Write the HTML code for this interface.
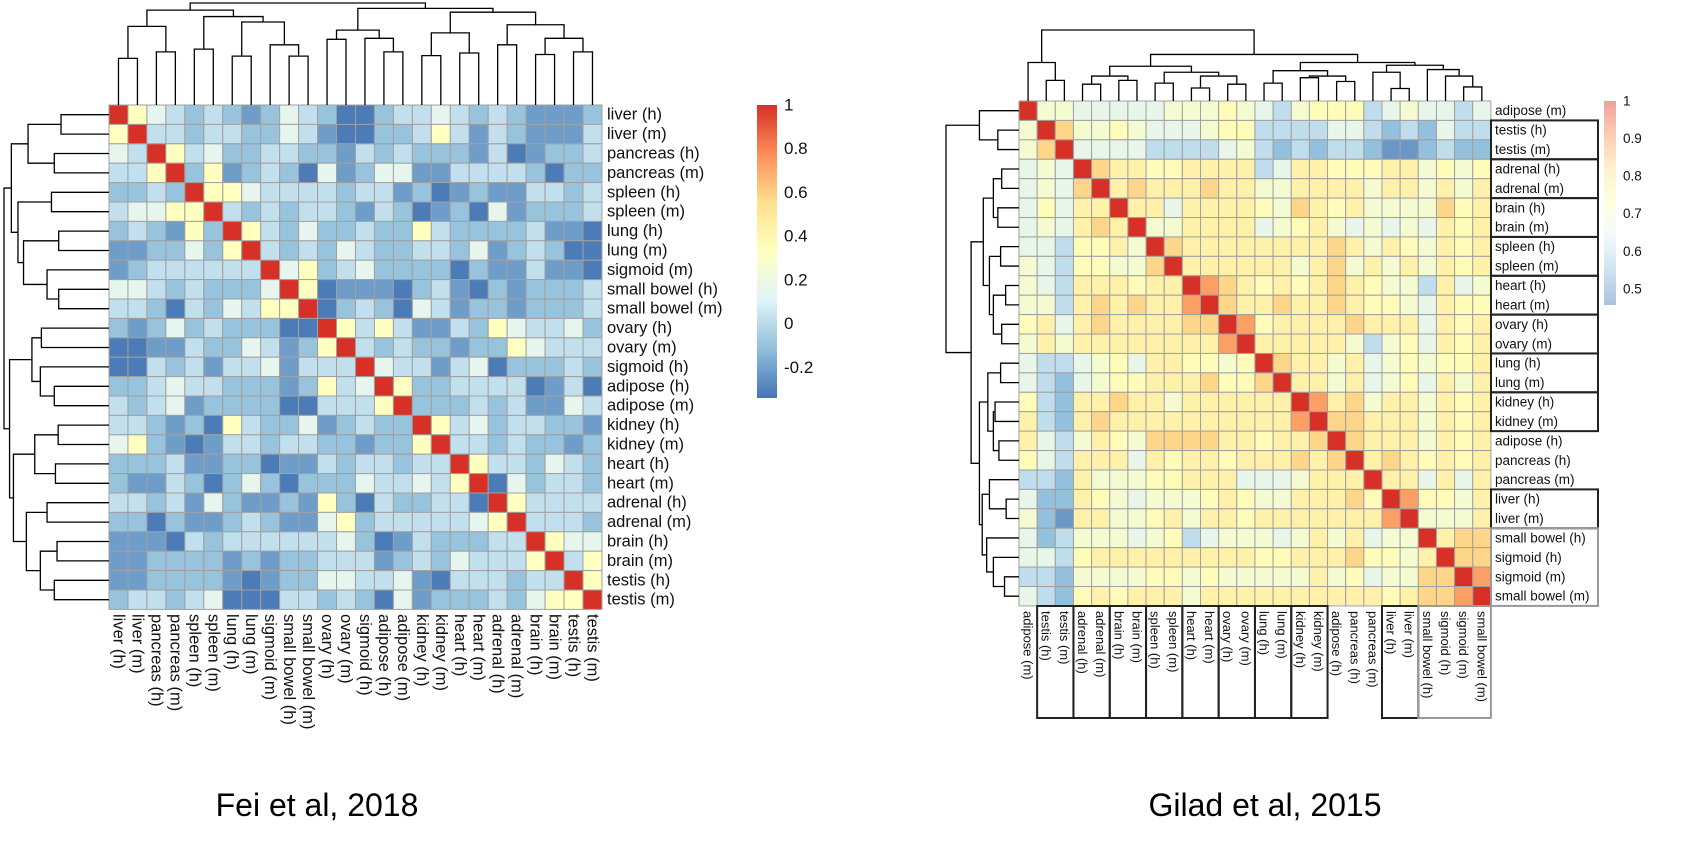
<!DOCTYPE html>
<html><head><meta charset="utf-8"><style>
html,body{margin:0;padding:0;background:#fff;}
svg{display:block;font-family:"Liberation Sans",Arial,sans-serif;}
</style></head><body>
<svg id="chart" width="1686" height="860" viewBox="0 0 1686 860" xmlns="http://www.w3.org/2000/svg">
<rect width="1686" height="860" fill="#fff"/>
<g id="left"></g>
<g id="right"></g>
<text x="317" y="816" font-size="32" text-anchor="middle" fill="#000">Fei et al, 2018</text>
<text x="1265" y="816" font-size="32" text-anchor="middle" fill="#000">Gilad et al, 2015</text>
</svg>
<script>
// ---------- DATA ----------
const leftLabels = ["liver (h)","liver (m)","pancreas (h)","pancreas (m)","spleen (h)","spleen (m)","lung (h)","lung (m)","sigmoid (m)","small bowel (h)","small bowel (m)","ovary (h)","ovary (m)","sigmoid (h)","adipose (h)","adipose (m)","kidney (h)","kidney (m)","heart (h)","heart (m)","adrenal (h)","adrenal (m)","brain (h)","brain (m)","testis (h)","testis (m)"];
const leftLevels = {B:-0.32,b:-0.22,m:-0.1,l:0.02,w:0.15,y:0.33,R:1};
const leftRows = [
"RywlmlmbmwlmBBmllwlmlmbbbm",
"yRllmllmmwlbBBmmlylblmbbbl",
"wlRylwmmllmmblmlmmmblBbmml",
"llyRmybmlmBwbmwwbbllllmBmm",
"mmlmRyywllllmllbmBbmbbllml",
"lwwyyRlmlmllmblmBbmBwbmmml",
"mlmbymRylmwmmlmmylmmmmlbbB",
"bbmmwmyRlmlmwlmmllmwbmlmBB",
"bmllllllRwymlwmmmmBmbblbbB",
"wwlmlmmmwRyBbbbBmlbBmbmmml",
"llmBlmwlyyRBmlmBwlbmmbmmml",
"mbmwmlmmmBBRylylbblmywllwm",
"BBbblmmwlbmyRlmlmmbmmywlll",
"BBlmlbllwblllRwllblwBmmmlm",
"mmlwllmmmbmylwRymmllllBblB",
"lmlwbmmmmBBlllyRmmmlmlbbwl",
"llmbmBylmmwbmlmmRylwmllmmb",
"wymbBbllmllmmbmmyRllmlmmbm",
"mmmlbbmmBbblmllmllRyllmwlm",
"mbblmBmwmBmmmwllwlyRBwmllm",
"llmlbwmbbmbymBlmmllBRyllll",
"mmBmbbmlmbbwymlllllwyRlllm",
"bbbBlmllllllwmBblmmmllRyww",
"bbmmmmbmbmmlllbmlmwlllyRly",
"bbmmmmbBbmmwwllwbBlllmllRy",
"mllmlwBBBllmlmBwbmmmlmwyyR"
];
const rightLabels = ["adipose (m)","testis (h)","testis (m)","adrenal (h)","adrenal (m)","brain (h)","brain (m)","spleen (h)","spleen (m)","heart (h)","heart (m)","ovary (h)","ovary (m)","lung (h)","lung (m)","kidney (h)","kidney (m)","adipose (h)","pancreas (h)","pancreas (m)","liver (h)","liver (m)","small bowel (h)","sigmoid (h)","sigmoid (m)","small bowel (m)"];
const rightLevels = {B:0.5,b:0.55,m:0.6,l:0.66,w:0.7,p:0.74,y:0.77,o:0.83,O:0.89,R:1};
const rightRows = [
"Rwwlllllwwwpwlmwpppmlwllml",
"wRowwpwlllwppmmmmllmbmblmm",
"woRllllmmmmlwmbmbmmbBBbmbb",
"lwlRoyyppyyyymlyypppyywpwp",
"lwloRyoyyyoyywwyyyywyywywy",
"lplyyRyylyyyypwoypywwwwopy",
"lwlyoyRwwyyyylwpywlwlwlypy",
"llmppywRoyyyyyyyyoywypwypy",
"wlmppwwoRyyyyyywyowywywypy",
"wlmyyypyyROoypypyoypwwmylw",
"wwmyoyoyyORoyyoyyoyppwlypp",
"pylyoyyyyooROpyyyyoyyylypy",
"wywyyyyyyyyORyyyyywmwplypy",
"lmmlwplyyppwpRoyywylwpwppy",
"lmblwppyyyoppoRyywylwplywy",
"pmbyyoyywyyyyyyROyowyywypy",
"ymbyoyyyyyyyyyyORooyyywypy",
"ylmwypwooooyypyyoRoyyywypy",
"plmyyylypyypyyyoyoRyoypypy",
"mmbywwwppyyylllwyyyRyylyly",
"lbbypwlwwwpypwwyyyopROppwy",
"wbByywwpywyypyyyyyyyORwwwy",
"lbmwwwlwpmlwwwlwywylwwRyoo",
"llmpyyyyyyyyyppyyyoppwyRoo",
"mmbwwwwppwpwwwwwywplwwooRO",
"lmbpypyyywyyyyyyyyyypyooOR"
];
// dendrogram trees: [leftChild, rightChild, relativeHeight]; leaves are row/col indices
const leftTree = [[[[0,1,.457],[2,3,.521],.771],[[4,5,.548],[[6,7,.479],[8,[9,10,.479],.59],.814],.867],.93],[[[11,12,.644],[13,[14,15,.521],.654],.734],[[[16,17,.484],[18,19,.51],.707],[[20,21,.59],[[22,23,.495],[24,25,.521],.654],.787],.91],.947],1];
const rightTree = [[0,[1,2,.29],.542],[[[[3,4,.237],[5,6,.29],.351],[[7,8,.252],[[9,10,.183],[11,12,.237],.351],.405],.489],[[[13,14,.252],[[15,16,.328],[17,18,.275],.351],.427],[[19,[20,21,.176],.405],[22,[23,[24,25,.198],.351],.443],.504],.542],.656],1];
const leftTicks = [1,0.8,0.6,0.4,0.2,0,-0.2];
const rightTicks = [1,0.9,0.8,0.7,0.6,0.5];
const rightRowBoxes = [[1,2],[3,4],[5,6],[7,8],[9,10],[11,12],[13,14],[15,16],[20,21]];
const rightGrayBox = [22,25];

// ---------- HELPERS ----------
const NS="http://www.w3.org/2000/svg";
const palette=["#4575B4","#91BFDB","#E0F3F8","#FFFFBF","#FEE090","#FC8D59","#D73027"];
function hex(c){return [1,3,5].map(i=>parseInt(c.substr(i,2),16));}
function colorFor(v,lo,hi){
  let t=(v-lo)/(hi-lo); t=Math.max(0,Math.min(1,t));
  const p=t*(palette.length-1); const i=Math.min(palette.length-2,Math.floor(p)); const f=p-i;
  const a=hex(palette[i]), b=hex(palette[i+1]);
  return "rgb("+a.map((x,k)=>Math.round(x+(b[k]-x)*f)).join(",")+")";
}
function mk(tag,attrs,parent){const e=document.createElementNS(NS,tag);for(const k in attrs)e.setAttribute(k,attrs[k]);parent.appendChild(e);return e;}
function parseRows(rows,levels){return rows.map(r=>r.split("").filter(c=>c in levels).slice(0,26).map(c=>levels[c]));}

function drawDend(g,tree,pos,base,depth,vertical,name){
  function rec(n){
    if(typeof n==="number") return [pos(n),0];
    const a=rec(n[0]), b=rec(n[1]), h=n[2];
    let d;
    if(vertical){
      const y=base-h*depth, ya=base-a[1]*depth, yb=base-b[1]*depth;
      d=`M${a[0]},${ya}V${y}H${b[0]}V${yb}`;
    } else {
      const x=base-h*depth, xa=base-a[1]*depth, xb=base-b[1]*depth;
      d=`M${xa},${a[0]}H${x}V${b[0]}H${xb}`;
    }
    const p=mk("path",{d:d,fill:"none",stroke:"#000","stroke-width":1.3},g);
    
    
    return [(a[0]+b[0])/2,h];
  }
  rec(tree);
}

function drawPanel(g,cfg){
  const M=parseRows(cfg.rows,cfg.levels), n=cfg.labels.length;
  const xs=i=>cfg.x0+i*cfg.cw, ys=i=>cfg.y0+i*cfg.ch;
  for(let r=0;r<n;r++)for(let c=0;c<n;c++){
    const v=(M[r]&&M[r][c]!==undefined)?M[r][c]:cfg.levels.l;
    const rc=mk("rect",{x:xs(c),y:ys(r),width:cfg.cw,height:cfg.ch,fill:colorFor(v,cfg.lo,cfg.hi),stroke:"#a0a0a0","stroke-width":1},g);
    
    
  }
  for(let i=0;i<n;i++){
    const t=mk("text",{x:cfg.rowLabelX,y:ys(i)+cfg.ch/2,"font-size":cfg.fs,"dominant-baseline":"central",fill:"#111"},g);
    t.textContent=cfg.labels[i];
    
    
    const cx=xs(i)+cfg.cw/2, cy=cfg.colLabelY;
    const t2=mk("text",{x:cx,y:cy,"font-size":cfg.fs2,"dominant-baseline":"central",fill:"#111",transform:`rotate(90 ${cx} ${cy})`},g);
    t2.textContent=cfg.labels[i];
    
    
  }
  drawDend(g,cfg.tree,i=>xs(i)+cfg.cw/2,cfg.y0,cfg.dendTop,true,'column-dendrogram-branch');
  drawDend(g,cfg.tree,i=>ys(i)+cfg.ch/2,cfg.x0,cfg.dendLeft,false,'row-dendrogram-branch');
  const id="grad"+cfg.id;
  const defs=mk("defs",{},g);
  const lg=mk("linearGradient",{id:id,x1:0,y1:1,x2:0,y2:0},defs);
  palette.forEach((c,i)=>mk("stop",{offset:i/(palette.length-1),"stop-color":c},lg));
  const cbScale=v=>cfg.cbTop+(cfg.hi-v)/(cfg.hi-cfg.lo)*(cfg.cbBottom-cfg.cbTop);
  const cb=mk("rect",{x:cfg.cbX,y:cfg.cbTop,width:cfg.cbW,height:cfg.cbBottom-cfg.cbTop,fill:`url(#${id})`,opacity:cfg.cbOpacity},g);
  
  
  cfg.ticks.forEach(v=>{
    const t=mk("text",{x:cfg.cbX+cfg.cbW+7,y:cbScale(v),"font-size":cfg.cbFs,"dominant-baseline":"central",fill:"#111"},g);
    t.textContent=String(v);
    
    
  });
  return {xs,ys};
}

// ---------- LEFT ----------
const L=document.getElementById("left");
drawPanel(L,{id:"L",labels:leftLabels,rows:leftRows,levels:leftLevels,lo:-0.34,hi:1,
  x0:109,y0:105,cw:18.96,ch:19.4,rowLabelX:607,colLabelY:614,fs:16.5,fs2:16.5,
  tree:leftTree,dendTop:102,dendLeft:105,
  cbX:757,cbW:20,cbTop:105,cbBottom:398,cbFs:17,cbOpacity:1,ticks:leftTicks});

// ---------- RIGHT ----------
const R=document.getElementById("right");
const geo=drawPanel(R,{id:"R",labels:rightLabels,rows:rightRows,levels:rightLevels,lo:0.457,hi:1,
  x0:1019,y0:101,cw:18.15,ch:19.42,rowLabelX:1495,colLabelY:611,fs:13.5,fs2:13,
  tree:rightTree,dendTop:71,dendLeft:73,
  cbX:1604,cbW:12,cbTop:101,cbBottom:305,cbFs:13.5,cbOpacity:0.45,ticks:rightTicks});
rightRowBoxes.forEach(b=>{
  const y1=geo.ys(b[0]), y2=geo.ys(b[1]+1), x1=geo.xs(b[0]), x2=geo.xs(b[1]+1);
  const r1=mk("rect",{x:1491,y:y1,width:107,height:y2-y1,fill:"none",stroke:"#222","stroke-width":2},R);
  
  
  const r2=mk("rect",{x:x1,y:606,width:x2-x1,height:112,fill:"none",stroke:"#222","stroke-width":2},R);
  
  
});
{
  const b=rightGrayBox, y1=geo.ys(b[0]), y2=geo.ys(b[1]+1), x1=geo.xs(b[0]), x2=geo.xs(b[1]+1);
  const g1=mk("rect",{x:1491,y:y1,width:107,height:y2-y1,fill:"none",stroke:"#999","stroke-width":2},R);
  
  
  const g2=mk("rect",{x:x1,y:606,width:x2-x1,height:112,fill:"none",stroke:"#999","stroke-width":2},R);
  
  
}
</script>
</body></html>
